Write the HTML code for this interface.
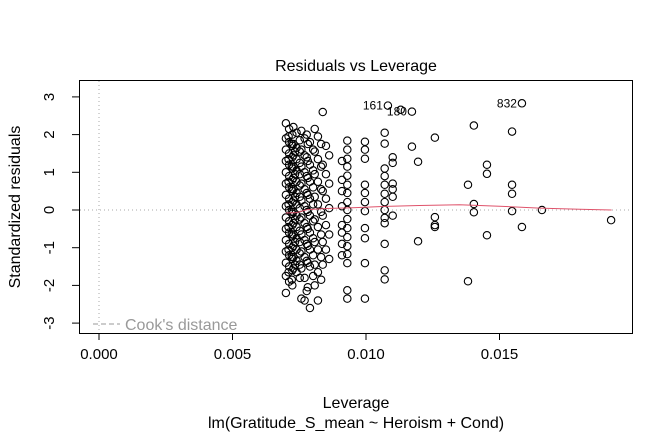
<!DOCTYPE html>
<html><head><meta charset="utf-8"><style>
body{margin:0;background:#fff}
svg text{font-family:"Liberation Sans",Arial,sans-serif}
</style></head><body>
<svg id="chart" width="672" height="432" viewBox="0 0 672 432" xmlns="http://www.w3.org/2000/svg">
<rect width="672" height="432" fill="#fff"/>
<text x="356" y="71" font-size="16" text-anchor="middle">Residuals vs Leverage</text>
<text x="356" y="408" font-size="16" text-anchor="middle">Leverage</text>
<text x="356" y="428" font-size="16" text-anchor="middle">lm(Gratitude_S_mean ~ Heroism + Cond)</text>
<text transform="translate(20,207) rotate(-90)" font-size="16" text-anchor="middle">Standardized residuals</text>
<g id="axes"></g>
<g id="marks"></g>
<rect x="79.5" y="80.5" width="553" height="253" fill="none" stroke="#000"/>
</svg>
<script>
const xTicks=[0,0.005,0.010,0.015];
const xTickLabels=["0.000","0.005","0.010","0.015"];
const yTicks=[-3,-2,-1,0,1,2,3];
const yTickLabels=["-3","-2","-1","0","1","2","3"];
// dense columns: leverage values and residuals
const col1Lev=0.00712;
const col1Res=[2.3,2.15,2.0,1.9,1.8,1.7,1.6,1.5,1.4,1.3,1.2,1.1,1.0,0.9,0.8,0.7,0.6,0.5,0.4,0.3,0.2,0.1,0,-0.1,-0.2,-0.3,-0.4,-0.5,-0.6,-0.7,-0.8,-0.9,-1.0,-1.1,-1.2,-1.3,-1.4,-1.5,-1.6,-1.75,-1.9,-2.0,-2.2];
const col1bLev=0.00722;
const col1bRes=[1.95,1.75,1.55,1.35,1.15,0.95,0.75,0.55,0.35,0.15,-0.05,-0.25,-0.45,-0.65,-0.85,-1.05,-1.25,-1.45,-1.65,-1.85];
const col2Lev=0.0074;
const col2Res=[2.2,2.05,1.85,1.75,1.65,1.55,1.45,1.35,1.25,1.15,1.05,0.95,0.85,0.75,0.65,0.55,0.45,0.35,0.25,0.15,0.05,-0.05,-0.15,-0.25,-0.35,-0.45,-0.55,-0.65,-0.75,-0.85,-0.95,-1.05,-1.15,-1.25,-1.35,-1.45,-1.55,-1.65,-1.8];
const col3Lev=0.0077;
const col3Res=[2.1,1.9,1.75,1.6,1.45,1.3,1.15,1.0,0.85,0.7,0.55,0.4,0.25,0.1,-0.05,-0.2,-0.35,-0.5,-0.65,-0.8,-0.95,-1.1,-1.25,-1.4,-1.55,-1.8,-2.05,-2.35,-2.4];
const col4Lev=0.0079;
const col4Res=[2.0,1.8,1.6,1.4,1.2,1.05,0.9,0.75,0.6,0.45,0.3,0.15,0,-0.15,-0.3,-0.45,-0.6,-0.75,-0.9,-1.05,-1.2,-1.35,-1.5,-1.75,-2.15,-2.6];
const col5Lev=0.0082;
const col5Res=[2.15,1.95,1.75,1.55,1.35,1.15,0.95,0.75,0.55,0.35,0.15,-0.05,-0.25,-0.45,-0.65,-0.85,-1.05,-1.25,-1.45,-1.65,-1.85,-2.0,-2.4];
const col6Lev=0.0085;
const col6Res=[2.6,1.7,1.45,1.2,0.95,0.7,0.5,0.3,0.05,-0.15,-0.4,-0.65,-0.85,-1.05,-1.3,-1.45];
const col7Lev=0.0093;
const col7Res=[1.84,1.6,1.36,1.15,0.91,0.67,0.45,0.21,0,-0.24,-0.48,-0.72,-0.96,-1.17,-1.41,-2.13,-2.35];
const col8Lev=0.0091;
const col8Res=[1.3,0.8,0.5,0.1,-0.4,-0.6,-0.9,-1.2];
const col9Lev=0.00996;
const col9Res=[1.81,1.6,1.36,0.67,0.45,0.21,-0.03,-0.48,-0.75,-1.41,-2.35];
const col10Lev=0.0107;
const col10Res=[2.05,1.76,1.1,0.9,0.67,0.43,0.21,0,-0.21,-0.35,-0.9,-1.6,-1.84];
const col11Lev=0.0110;
const col11Res=[1.4,1.25,0.7,0.55,0.35,-0.15];
// sparse points
const sparseLev=[0.01082,0.01130,0.01172,0.01172,0.01195,0.01195,0.01258,0.01258,0.01258,0.01258,0.01382,0.01382,0.01404,0.01404,0.01404,0.01453,0.01453,0.01453,0.01547,0.01547,0.01547,0.01547,0.01584,0.01584,0.01659,0.01918];
const sparseRes=[2.77,2.66,2.61,1.68,1.28,-0.83,1.92,-0.19,-0.4,-0.45,0.67,-1.89,2.24,0.16,-0.06,1.2,0.96,-0.67,2.08,0.67,0.43,-0.03,2.83,-0.45,0,-0.27];
const labelNames=["161","180","832"];
const labelLev=[0.01082,0.01172,0.01584];
const labelRes=[2.77,2.61,2.83];
// loess smoother
const smoothLev=[0.0070,0.0074,0.0078,0.0085,0.0095,0.0105,0.0120,0.0135,0.0150,0.0165,0.0180,0.0192];
const smoothRes=[-0.08,-0.07,0.01,0.04,0.06,0.09,0.12,0.14,0.1,0.05,0.02,0.0];

const X=v=>99+v*26700;
const Y=v=>210-v*37.7;
const NS="http://www.w3.org/2000/svg";
const axes=document.getElementById('axes'), marks=document.getElementById('marks');
function mk(t,p,parent){const e=document.createElementNS(NS,t);for(const k in p)e.setAttribute(k,p[k]);parent.appendChild(e);return e;}

xTicks.forEach((t,i)=>{
  const l=mk('line',{x1:X(t),x2:X(t),y1:333,y2:340,stroke:'#000'},axes);
  
  
  const tx=mk('text',{x:X(t),y:359,'font-size':15,'text-anchor':'middle'},axes);
  tx.textContent=xTickLabels[i];
  
  
});
yTicks.forEach((t,i)=>{
  const l=mk('line',{x1:72,x2:79,y1:Y(t),y2:Y(t),stroke:'#000'},axes);
  
  
  const tx=mk('text',{transform:`translate(54,${Y(t)}) rotate(-90)`,'font-size':15,'text-anchor':'middle'},axes);
  tx.textContent=yTickLabels[i];
  
  
});
const vz=mk('line',{x1:X(0),x2:X(0),y1:81,y2:333,stroke:'#aaa','stroke-dasharray':'1 3'},axes);


const hz=mk('line',{x1:80,x2:632,y1:Y(0),y2:Y(0),stroke:'#aaa','stroke-dasharray':'1 3'},axes);


const cl=mk('line',{x1:93,x2:120,y1:324,y2:324,stroke:'#999','stroke-dasharray':'5 3'},axes);


const ct=mk('text',{x:125,y:330,'font-size':16,fill:'#999'},axes);
ct.textContent="Cook's distance";



function pt(lev,r){
  const c=mk('circle',{cx:X(lev),cy:Y(r),r:3.7,fill:'none',stroke:'#000','stroke-width':1.1},marks);
  
  
}
const cols=[[col1Lev,col1Res],[col1bLev,col1bRes],[col2Lev,col2Res],[col3Lev,col3Res],[col4Lev,col4Res],[col5Lev,col5Res],[col6Lev,col6Res],[col7Lev,col7Res],[col8Lev,col8Res],[col9Lev,col9Res],[col10Lev,col10Res],[col11Lev,col11Res]];
cols.forEach(([lv,rs],ci)=>rs.forEach((r,i)=>{
  const jitter=(ci<7)?((i%3)-1)*0.00012:0;
  pt(lv+jitter,r);
}));
sparseLev.forEach((lv,i)=>pt(lv,sparseRes[i]));
labelNames.forEach((n,i)=>{
  const t=mk('text',{x:X(labelLev[i])-5,y:Y(labelRes[i])+4,'font-size':12,'text-anchor':'end'},marks);
  t.textContent=n;
  
  
});
const sm=mk('polyline',{points:smoothLev.map((l,i)=>X(l)+','+Y(smoothRes[i])).join(' '),fill:'none',stroke:'#DF536B','stroke-width':1},marks);


</script>
</body></html>
